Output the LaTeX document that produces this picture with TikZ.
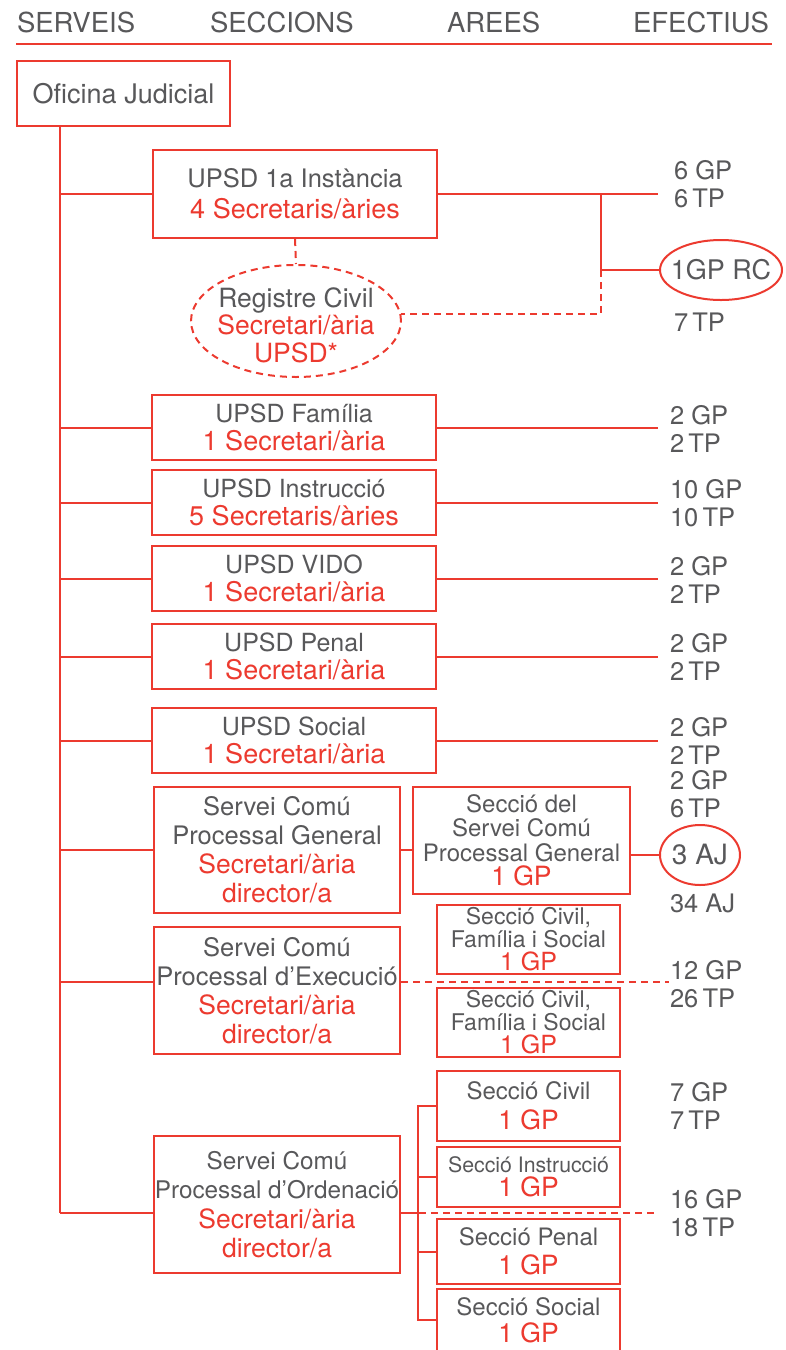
\documentclass[tikz,border=0pt]{standalone}
\usepackage{fontspec}
\setmainfont{TeX Gyre Heros}
\usetikzlibrary{shapes.geometric}
\definecolor{ojred}{HTML}{EC3A2F}
\definecolor{ojgrey}{HTML}{58585A}
\newcommand{\redtxt}[2][26.5]{{\color{ojred}\fontsize{#1}{28}\selectfont #2}}
\begin{document}
\begin{tikzpicture}[x=1pt, y=-1pt, line width=2pt, color=ojred, every node/.style={text=ojgrey, font=\fontsize{25.5}{28}\selectfont}]
  \tikzstyle{box}=[draw, inner sep=0, align=center]
  \tikzstyle{upsd}=[box, minimum width=284pt, minimum height=65pt, font=\fontsize{25}{28}\selectfont]
  \tikzstyle{serv}=[box, minimum width=246pt, font=\fontsize{25.5}{29}\selectfont]
  \tikzstyle{secc}=[box, minimum width=183pt, font=\fontsize{24}{28}\selectfont]
  \tikzstyle{oval}=[draw, ellipse, inner sep=0]
  \tikzstyle{dline}=[dash pattern=on 7pt off 5pt]
  \tikzstyle{eff}=[anchor=west, inner sep=0, align=left]
  \tikzstyle{head}=[anchor=west, inner sep=0, font=\fontsize{27.5}{28}\selectfont]
  \clip (0,0) rectangle (785,1350);

  % column titles
  \node[head] (hserv) at (16,22) {SERVEIS};
  \node[head] (hsecc) at (209,22) {SECCIONS};
  \node[head] (hare) at (446,22) {AREES};
  \node[head, anchor=east] (hefe) at (770,22) {EFECTIUS};
  \draw (16,44) -- (772,44);

  \node[box, minimum width=213pt, minimum height=65pt, font=\fontsize{27}{28}\selectfont] (oj) at (123.5,93.5) {Oficina Judicial};

  % UPSD
  \node[upsd, minimum height=88pt, font=\fontsize{25.5}{31}\selectfont] (u1) at (295,194) {UPSD 1a Instància\\\redtxt[27]{4 Secretaris/àries}};
  \node[oval, dline, minimum width=210pt, minimum height=112pt] (regciv) at (296,321) {};
  \node[align=center, font=\fontsize{26.5}{27.5}\selectfont] (regtxt) at (296,325) {Registre Civil\\\redtxt{Secretari/ària}\\\redtxt{UPSD*}};
  \node[oval, minimum width=122pt, minimum height=60pt] (rcell) at (721,270) {};
  \node[font=\fontsize{27}{28}\selectfont] (rctxt) at (rcell) {1GP RC};
  \node[upsd] (ufam) at (294,427.5) {UPSD Família\\\redtxt[27]{1 Secretari/ària}};
  \node[upsd] (uins) at (294,502.5) {UPSD Instrucció\\\redtxt[27]{5 Secretaris/àries}};
  \node[upsd] (uvid) at (294,578.5) {UPSD VIDO\\\redtxt[27]{1 Secretari/ària}};
  \node[upsd] (upen) at (294,656.5) {UPSD Penal\\\redtxt[27]{1 Secretari/ària}};
  \node[upsd] (usoc) at (294,740.5) {UPSD Social\\\redtxt[27]{1 Secretari/ària}};

  % serveis comuns
  \node[serv, minimum height=126pt] (scpg) at (277,850) {Servei Comú\\Processal General\\\redtxt{Secretari/ària}\\\redtxt{director/a}};
  \node[serv, minimum height=127pt] (scpe) at (277,990.5) {Servei Comú\\Processal d’Execució\\\redtxt{Secretari/ària}\\\redtxt{director/a}};
  \node[serv, minimum height=137pt, font=\fontsize{24.3}{29.5}\selectfont] (scpo) at (277,1204.5) {Servei Comú\\Processal d’Ordenació\\\redtxt{Secretari/ària}\\\redtxt{director/a}};

  % seccions
  \node[secc, minimum width=217pt, minimum height=107pt, font=\fontsize{24}{24.5}\selectfont] (secpg) at (521.5,840.5) {Secció del\\Servei Comú\\Processal General\\\redtxt{1 GP}};
  \node[oval, minimum width=80pt, minimum height=60pt] (aj) at (700,855) {};
  \node[font=\fontsize{28}{28}\selectfont] (ajtxt) at (aj) {3 AJ};
  \node[secc, minimum height=69pt, font=\fontsize{23}{23}\selectfont] (sfs1) at (528.5,939.5) {Secció Civil,\\Família i Social\\\redtxt[25]{1 GP}};
  \node[secc, minimum height=69pt, font=\fontsize{23}{23}\selectfont] (sfs2) at (528.5,1022.5) {Secció Civil,\\Família i Social\\\redtxt[25]{1 GP}};
  \node[secc, minimum height=70pt, font=\fontsize{24}{30}\selectfont] (sciv) at (528.5,1106) {Secció Civil\\\redtxt{1 GP}};
  \node[secc, minimum height=60pt, font=\fontsize{21.3}{23.5}\selectfont] (sins) at (528.5,1177) {Secció Instrucció\\\redtxt{1 GP}};
  \node[secc, minimum height=65pt, font=\fontsize{24}{29}\selectfont] (spen) at (528.5,1251.5) {Secció Penal\\\redtxt{1 GP}};
  \node[secc, minimum height=62pt, font=\fontsize{24}{27}\selectfont] (ssoc) at (528.5,1320) {Secció Social\\\redtxt{1 GP}};

  % efectius
  \node[eff] (n1) at (673,184) {6 GP\\6\,TP};
  \node[eff] (n1rc) at (673,322) {7\,TP};
  \node[eff] (nfam) at (669,428.5) {2 GP\\2\,TP};
  \node[eff] (nins) at (669,503.5) {10 GP\\10\,TP};
  \node[eff] (nvid) at (669,579.5) {2 GP\\2\,TP};
  \node[eff] (npen) at (669,657) {2 GP\\2\,TP};
  \node[eff] (nsoc) at (669,740.5) {2 GP\\2\,TP};
  \node[eff] (npg) at (669,794) {2 GP\\6\,TP};
  \node[eff] (npgaj) at (669,903) {34 AJ};
  \node[eff] (neje) at (669,984) {12 GP\\26\,TP};
  \node[eff] (nciv) at (669,1106) {7 GP\\7\,TP};
  \node[eff] (nord) at (669,1213) {16 GP\\18\,TP};

  \coordinate (trunk) at (60,126);
  \coordinate (rcol) at (658,0);
  \coordinate (jn) at (601,194);
  \coordinate (brk) at (419,1213);
  \coordinate (ejew) at ([yshift=9pt]scpe.west);
  \coordinate (ejee) at ([yshift=9pt]scpe.east);
  \coordinate (ordw) at ([yshift=-8.5pt]scpo.west);
  \coordinate (orde) at ([yshift=-8.5pt]scpo.east);

  % tronc
  \draw (oj.south -| trunk) -- (trunk |- ordw);
  \foreach \b in {u1,ufam,uins,uvid,upen,usoc,scpg}
    \draw (\b.west) -- (\b.west -| trunk);
  \draw (ejew) -- (ejew -| trunk);
  \draw (ordw) -- (ordw -| trunk);

  % cap als efectius
  \foreach \b in {ufam,uins,uvid,upen,usoc}
    \draw (\b.east) -- (\b.east -| rcol);
  \draw (u1.east) -- (u1.east -| rcol);
  \draw (jn) -- (jn |- rcell.west) -- (rcell.west);
  \draw[dline] (jn |- rcell.west) -- (jn |- regciv.4) -- (regciv.4);
  \draw[dline] (u1.south) -- (regciv.north);
  \draw (scpg.east) -- (scpg.east -| secpg.west);
  \draw (secpg.east |- aj.west) -- (aj.west);
  \draw[dline] (ejee) -- (ejee -| neje.west);
  \draw (orde) -- (brk);
  \draw[dline] (brk) -- (brk -| rcol);
  \draw (sciv.west) -- ++(-18,0) |- (ssoc.west);
  \draw (sins.west) -- ++(-18,0);
  \draw (spen.west) -- ++(-18,0);
\end{tikzpicture}
\end{document}
